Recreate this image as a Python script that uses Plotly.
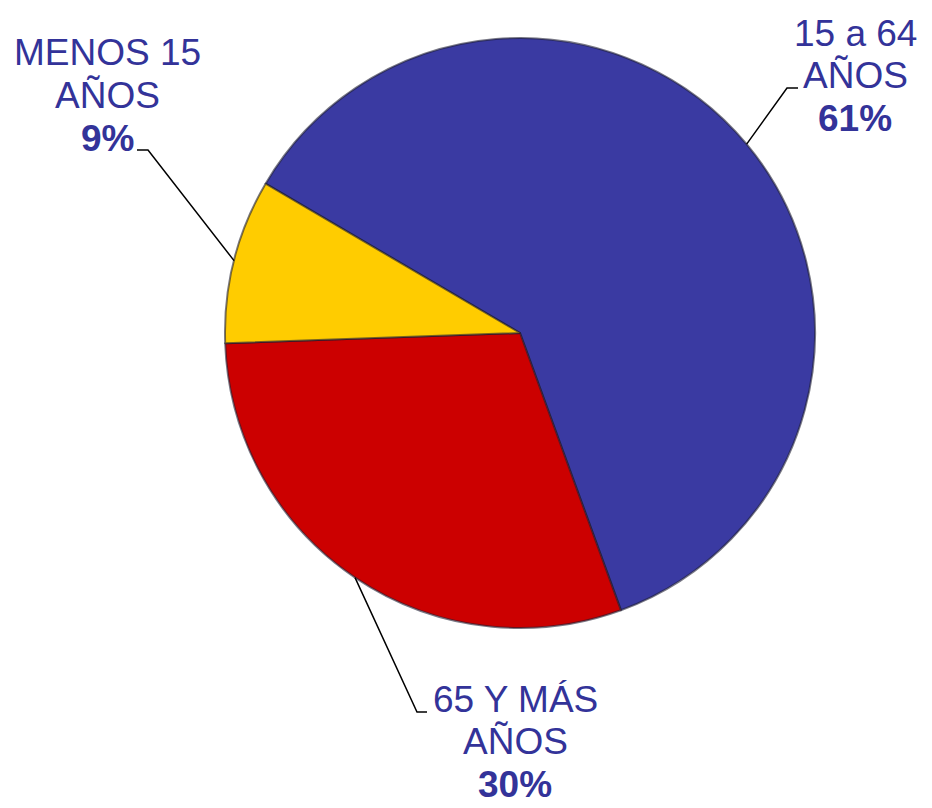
import math
import plotly.graph_objects as go

# ---- data ----
categories = ["15 a 64 AÑOS", "65 Y MÁS AÑOS", "MENOS 15 AÑOS"]
label_lines = [["15 a 64", "AÑOS"], ["65 Y MÁS", "AÑOS"], ["MENOS 15", "AÑOS"]]
values = [61, 30, 9]
colors = ["#3A3AA2", "#CC0000", "#FFCC00"]

W, H = 932, 808
CX, CY, R = 520, 333, 295
ROTATION = -59.6
TEXT_COLOR = "#333399"
FONT = "Liberation Sans, Arial, sans-serif"
FS = 37
LINE_PITCH = 42.5

def px(x):
    return x / W

def py(y):
    return 1 - y / H

fig = go.Figure()
fig.add_trace(go.Pie(
    labels=categories,
    values=values,
    sort=False,
    direction="clockwise",
    rotation=ROTATION,
    marker=dict(colors=colors, line=dict(color="rgba(30,30,50,0.6)", width=2)),
    textinfo="none",
    hoverinfo="label+percent",
    showlegend=False,
    domain=dict(x=[px(CX - R), px(CX + R)], y=[py(CY + R), py(CY - R)]),
))

# label layout: (center x, first baseline y, elbow x, elbow y, text-side x of horizontal)
label_pos = [
    (855, 46, 787, 88, 798),
    (515, 712, 417, 712, 427),
    (107, 66, 148, 150, 137),
]

total = sum(values)
start = ROTATION
shapes = []
annotations = []
cum = 0.0
for i, v in enumerate(values):
    mid = start + (cum + v / 2) / total * 360
    cum += v
    a = math.radians(mid)
    ex = CX + R * math.sin(a)
    ey = CY - R * math.cos(a)
    cxl, base, elx, ely, tx = label_pos[i]
    path = f"M {px(ex)} {py(ey)} L {px(elx)} {py(ely)} L {px(tx)} {py(ely)}"
    shapes.append(dict(type="path", xref="paper", yref="paper", path=path,
                       line=dict(color="black", width=1.5)))
    lines = label_lines[i] + [f"<b>{round(v / total * 100)}%</b>"]
    for j, t in enumerate(lines):
        bl = base + j * LINE_PITCH
        annotations.append(dict(
            x=px(cxl), y=py(bl - 13), xref="paper", yref="paper",
            text=t, showarrow=False, xanchor="center", yanchor="middle",
            font=dict(family=FONT, size=FS, color=TEXT_COLOR),
        ))

fig.update_layout(
    width=W, height=H,
    margin=dict(l=0, r=0, t=0, b=0),
    paper_bgcolor="white",
    plot_bgcolor="white",
    shapes=shapes,
    annotations=annotations,
)

fig.write_html("out.html", config={"displayModeBar": False},
               post_script="document.body.style.margin='0';document.body.style.overflow='hidden';")
